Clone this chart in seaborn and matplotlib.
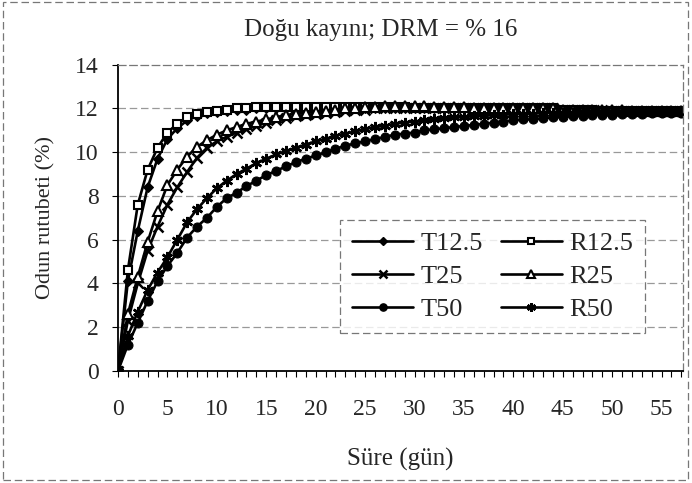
import matplotlib
matplotlib.use("Agg")
import matplotlib.pyplot as plt
import matplotlib.patches as mpatches
from matplotlib.lines import Line2D
import seaborn as sns
import pandas as pd

days = list(range(0, 58))

T12_5 = [0.0, 4.1, 6.4, 8.4, 9.7, 10.6, 11.1, 11.45, 11.65, 11.8,
         11.85, 11.9, 11.95, 11.95, 12.0, 12.0, 12.0, 12.0, 12.0, 12.0,
         12.0, 12.0, 12.0, 12.0, 12.0, 12.0, 12.0, 12.0, 12.0, 12.0,
         12.0, 12.0, 12.0, 12.0, 12.0, 12.0, 12.0, 12.0, 12.0, 12.0,
         11.95, 11.95, 11.95, 11.95, 11.95, 11.9, 11.9, 11.9, 11.9, 11.9,
         11.9, 11.9, 11.9, 11.9, 11.9, 11.9, 11.9, 11.9]
R12_5 = [0.0, 4.6, 7.6, 9.2, 10.2, 10.9, 11.3, 11.6, 11.75, 11.85,
         11.9, 11.95, 12.0, 12.0, 12.05, 12.05, 12.05, 12.05, 12.05, 12.05,
         12.05, 12.05, 12.05, 12.05, 12.05, 12.05, 12.05, 12.05, 12.05, 12.05,
         12.0, 12.0, 12.0, 12.0, 12.0, 12.0, 12.0, 12.0, 12.0, 12.0,
         12.0, 12.0, 12.0, 12.0, 12.0, 11.95, 11.95, 11.95, 11.95, 11.9,
         11.9, 11.9, 11.9, 11.9, 11.9, 11.9, 11.9, 11.9]
T25 = [0.0, 2.3, 4.0, 5.5, 6.6, 7.6, 8.4, 9.1, 9.75, 10.2,
       10.5, 10.7, 10.9, 11.05, 11.2, 11.35, 11.45, 11.55, 11.65, 11.7,
       11.75, 11.8, 11.85, 11.9, 11.95, 11.95, 12.0, 12.0, 12.0, 12.0,
       12.0, 12.0, 12.0, 12.0, 12.0, 12.0, 12.0, 12.0, 12.0, 12.0,
       12.0, 12.0, 12.0, 12.0, 12.0, 11.95, 11.95, 11.95, 11.95, 11.95,
       11.9, 11.9, 11.9, 11.9, 11.9, 11.9, 11.9, 11.9]
R25 = [0.0, 2.6, 4.3, 5.9, 7.3, 8.5, 9.2, 9.8, 10.25, 10.55,
       10.8, 11.0, 11.15, 11.3, 11.4, 11.5, 11.6, 11.7, 11.75, 11.8,
       11.85, 11.9, 11.95, 12.0, 12.0, 12.05, 12.05, 12.1, 12.1, 12.1,
       12.1, 12.1, 12.05, 12.05, 12.05, 12.05, 12.0, 12.0, 12.0, 12.0,
       12.0, 12.0, 12.0, 12.0, 12.0, 11.95, 11.95, 11.95, 11.95, 11.95,
       11.95, 11.95, 11.9, 11.9, 11.9, 11.9, 11.9, 11.9]
T50 = [0.0, 1.2, 2.2, 3.2, 4.1, 4.8, 5.4, 6.1, 6.6, 7.0,
       7.5, 7.9, 8.15, 8.45, 8.7, 8.95, 9.15, 9.35, 9.55, 9.7,
       9.85, 10.0, 10.15, 10.3, 10.4, 10.5, 10.6, 10.7, 10.8, 10.85,
       10.9, 11.0, 11.05, 11.1, 11.15, 11.2, 11.25, 11.3, 11.35, 11.4,
       11.45, 11.5, 11.5, 11.55, 11.6, 11.6, 11.65, 11.65, 11.7, 11.7,
       11.7, 11.75, 11.75, 11.75, 11.8, 11.8, 11.8, 11.8]
R50 = [0.0, 1.6, 2.7, 3.7, 4.5, 5.2, 6.0, 6.8, 7.4, 7.9,
       8.35, 8.7, 9.0, 9.25, 9.5, 9.7, 9.9, 10.05, 10.2, 10.35,
       10.5, 10.6, 10.75, 10.85, 10.95, 11.05, 11.15, 11.2, 11.3, 11.35,
       11.4, 11.45, 11.5, 11.55, 11.6, 11.6, 11.65, 11.65, 11.7, 11.7,
       11.75, 11.75, 11.75, 11.8, 11.8, 11.8, 11.8, 11.85, 11.85, 11.85,
       11.85, 11.85, 11.85, 11.85, 11.85, 11.85, 11.85, 11.85]

series_names = ["T12.5", "R12.5", "T25", "R25", "T50", "R50"]
series_values = [T12_5, R12_5, T25, R25, T50, R50]
x_tick_labels = ["0", "5", "10", "15", "20", "25", "30", "35", "40", "45", "50", "55"]
y_ticks = [0, 2, 4, 6, 8, 10, 12, 14]

title = "Doğu kayını; DRM = % 16"
xlabel = "Süre (gün)"
ylabel = "Odun rutubeti (%)"

sns.set_theme(style="white")
plt.rcParams["font.family"] = ["Liberation Serif", "DejaVu Serif"]

styles = {
    "T12.5": dict(marker="D", markersize=5, markerfacecolor="black", markeredgecolor="black"),
    "R12.5": dict(marker="s", markersize=6, markerfacecolor="white", markeredgecolor="black", markeredgewidth=1.5),
    "T25": dict(marker="x", markersize=7, markeredgecolor="black", markeredgewidth=1.8),
    "R25": dict(marker="^", markersize=6.5, markerfacecolor="white", markeredgecolor="black", markeredgewidth=1.5),
    "T50": dict(marker="o", markersize=6.5, markerfacecolor="black", markeredgecolor="black"),
    "R50": dict(marker=(6, 2, 0), markersize=8, markeredgecolor="black", markeredgewidth=1.8),
}

fig = plt.figure(figsize=(6.92, 4.83), dpi=100)
ax = fig.add_axes([0.1705, 0.232, 0.817, 0.634])

for name, vals in zip(series_names, series_values):
    df = pd.DataFrame({"day": days, "value": vals})
    sns.lineplot(data=df, x="day", y="value", ax=ax, color="black",
                 linewidth=1.9, legend=False, **styles[name])

ax.set_xlim(0, 57.2)
ax.set_ylim(0, 14)
ax.set_yticks(y_ticks)
ax.set_yticklabels([str(v) for v in y_ticks], fontsize=17)
ax.set_xticks([int(t) for t in x_tick_labels])
ax.set_xticklabels(x_tick_labels, fontsize=17)
ax.set_xticks(days, minor=True)
ax.tick_params(axis="both", which="both", direction="out", length=4, width=0.8,
               color="black", bottom=True, left=True)
ax.tick_params(axis="x", which="major", pad=16)
ax.tick_params(axis="y", pad=10)

for y in y_ticks[1:-1]:
    ax.axhline(y, color="#999999", linewidth=0.9, linestyle=(0, (6, 3)), zorder=0)

ax.spines["left"].set_color("black")
ax.spines["left"].set_linewidth(1.3)
ax.spines["bottom"].set_color("black")
ax.spines["bottom"].set_linewidth(1.3)
for s in ("top", "right"):
    ax.spines[s].set_color("#777777")
    ax.spines[s].set_linewidth(0.9)
    ax.spines[s].set_linestyle((0, (6, 3)))

ax.set_xlabel(xlabel, fontsize=18, labelpad=20)
ax.set_ylabel(ylabel, fontsize=16, labelpad=14)
fig.text(0.55, 0.937, title, fontsize=18, ha="center", va="center")

order = ["T12.5", "T25", "T50", "R12.5", "R25", "R50"]
handles = []
for name in order:
    st = dict(styles[name])
    st["markersize"] = st["markersize"] * 0.8
    handles.append(Line2D([0], [0], color="black", linewidth=1.9, **st))
leg = ax.legend(handles, order, ncol=2, loc="lower left",
                bbox_to_anchor=(0.37, 0.082, 0.586, 0.42), mode="expand",
                fontsize=19, frameon=True, fancybox=False, handlelength=2.3,
                handletextpad=0.3, labelspacing=0.35, borderpad=0.45, columnspacing=1.2)
leg.get_frame().set_edgecolor("#555555")
leg.get_frame().set_linewidth(0.9)
leg.get_frame().set_linestyle((0, (6, 3)))

fig.patches.append(mpatches.Rectangle((0.004, 0.006), 0.99, 0.99, transform=fig.transFigure,
                                      fill=False, edgecolor="#777777", linewidth=0.9,
                                      linestyle=(0, (6, 3))))

fig.savefig("out.png", dpi=100)
